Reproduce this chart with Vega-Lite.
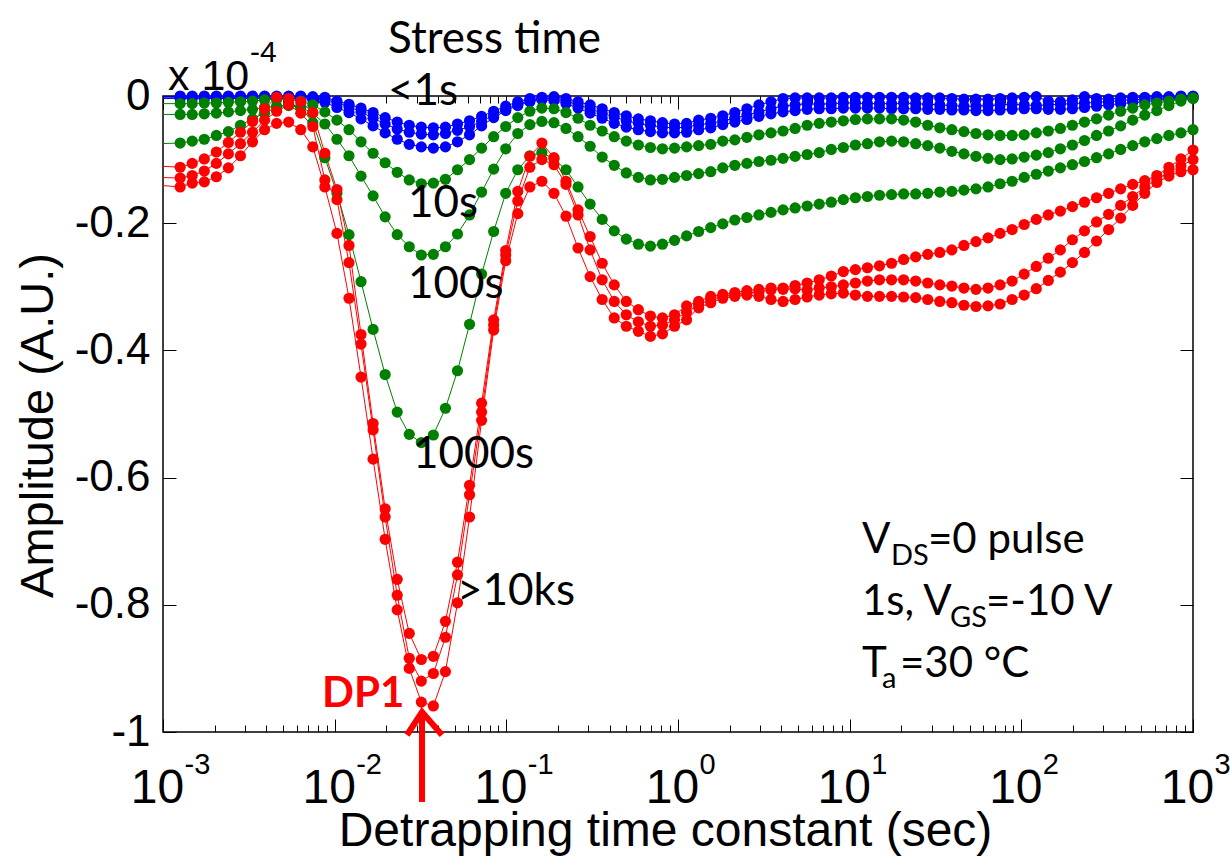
{
  "$schema": "https://vega.github.io/schema/vega-lite/v6.json",
  "width": 1030,
  "height": 636,
  "autosize": {"type": "none"},
  "padding": {"left": 163, "top": 96, "right": 37, "bottom": 130},
  "background": "white",
  "config": {
    "view": {"stroke": "black", "strokeWidth": 1.5},
    "axis": {
      "domain": false, "grid": false, "tickColor": "black", "tickWidth": 1,
      "labelColor": "black", "titleColor": "black",
      "labelFont": "Liberation Sans, Arial, sans-serif",
      "titleFont": "Liberation Sans, Arial, sans-serif",
      "titleFontWeight": "normal", "labelOverlap": false, "labelFlush": false, "labelBound": false
    }
  },
  "datasets": {
    "curves": [
      {"t":0.00091,"c":"B1","a":0},{"t":0.001259,"c":"B1","a":0},{"t":0.00148,"c":"B1","a":0},{"t":0.00174,"c":"B1","a":0},{"t":0.002045,"c":"B1","a":0},{"t":0.002404,"c":"B1","a":0},{"t":0.002826,"c":"B1","a":0},{"t":0.003322,"c":"B1","a":0},{"t":0.003905,"c":"B1","a":0},{"t":0.004591,"c":"B1","a":0},{"t":0.005397,"c":"B1","a":0},{"t":0.006345,"c":"B1","a":0},{"t":0.007458,"c":"B1","a":-0.001},{"t":0.008768,"c":"B1","a":-0.002},{"t":0.01031,"c":"B1","a":-0.008},{"t":0.01212,"c":"B1","a":-0.013},{"t":0.01424,"c":"B1","a":-0.019},{"t":0.01674,"c":"B1","a":-0.026},{"t":0.01968,"c":"B1","a":-0.034},{"t":0.02314,"c":"B1","a":-0.041},{"t":0.0272,"c":"B1","a":-0.046},{"t":0.03197,"c":"B1","a":-0.049},{"t":0.03758,"c":"B1","a":-0.05},{"t":0.04418,"c":"B1","a":-0.049},{"t":0.05194,"c":"B1","a":-0.044},{"t":0.06105,"c":"B1","a":-0.039},{"t":0.07177,"c":"B1","a":-0.032},{"t":0.08437,"c":"B1","a":-0.024},{"t":0.09918,"c":"B1","a":-0.016},{"t":0.1166,"c":"B1","a":-0.009},{"t":0.1371,"c":"B1","a":-0.004},{"t":0.1611,"c":"B1","a":-0.002},{"t":0.1894,"c":"B1","a":-0.001},{"t":0.2227,"c":"B1","a":-0.004},{"t":0.2617,"c":"B1","a":-0.009},{"t":0.3077,"c":"B1","a":-0.014},{"t":0.3617,"c":"B1","a":-0.02},{"t":0.4252,"c":"B1","a":-0.026},{"t":0.4998,"c":"B1","a":-0.031},{"t":0.5876,"c":"B1","a":-0.036},{"t":0.6907,"c":"B1","a":-0.039},{"t":0.812,"c":"B1","a":-0.042},{"t":0.9545,"c":"B1","a":-0.044},{"t":1.122,"c":"B1","a":-0.043},{"t":1.319,"c":"B1","a":-0.038},{"t":1.551,"c":"B1","a":-0.035},{"t":1.823,"c":"B1","a":-0.031},{"t":2.143,"c":"B1","a":-0.026},{"t":2.519,"c":"B1","a":-0.02},{"t":2.961,"c":"B1","a":-0.014},{"t":3.481,"c":"B1","a":-0.009},{"t":4.092,"c":"B1","a":-0.004},{"t":4.81,"c":"B1","a":-0.003},{"t":5.654,"c":"B1","a":-0.003},{"t":6.647,"c":"B1","a":-0.003},{"t":7.814,"c":"B1","a":-0.003},{"t":9.185,"c":"B1","a":-0.002},{"t":10.8,"c":"B1","a":-0.002},{"t":12.69,"c":"B1","a":-0.002},{"t":14.92,"c":"B1","a":-0.002},{"t":17.54,"c":"B1","a":-0.002},{"t":20.62,"c":"B1","a":-0.002},{"t":24.24,"c":"B1","a":-0.003},{"t":28.49,"c":"B1","a":-0.003},{"t":33.5,"c":"B1","a":-0.003},{"t":39.38,"c":"B1","a":-0.004},{"t":46.29,"c":"B1","a":-0.005},{"t":54.41,"c":"B1","a":-0.005},{"t":63.97,"c":"B1","a":-0.005},{"t":75.19,"c":"B1","a":-0.004},{"t":88.39,"c":"B1","a":-0.003},{"t":103.9,"c":"B1","a":-0.002},{"t":122.2,"c":"B1","a":-0.001},{"t":143.6,"c":"B1","a":-0.008},{"t":168.8,"c":"B1","a":-0.009},{"t":198.4,"c":"B1","a":-0.006},{"t":233.3,"c":"B1","a":-0.001},{"t":274.2,"c":"B1","a":-0.004},{"t":322.4,"c":"B1","a":-0.005},{"t":378.9,"c":"B1","a":-0.003},{"t":445.5,"c":"B1","a":-0.002},{"t":523.6,"c":"B1","a":-0.002},{"t":615.6,"c":"B1","a":-0.001},{"t":723.6,"c":"B1","a":-0.001},{"t":850.6,"c":"B1","a":0},{"t":1000,"c":"B1","a":0},

      {"t":0.00091,"c":"B2","a":-0.002},{"t":0.001259,"c":"B2","a":-0.002},{"t":0.00148,"c":"B2","a":-0.002},{"t":0.00174,"c":"B2","a":-0.002},{"t":0.002045,"c":"B2","a":-0.002},{"t":0.002404,"c":"B2","a":-0.002},{"t":0.002826,"c":"B2","a":-0.002},{"t":0.003322,"c":"B2","a":-0.002},{"t":0.003905,"c":"B2","a":-0.002},{"t":0.004591,"c":"B2","a":-0.002},{"t":0.005397,"c":"B2","a":-0.002},{"t":0.006345,"c":"B2","a":-0.002},{"t":0.007458,"c":"B2","a":-0.003},{"t":0.008768,"c":"B2","a":-0.005},{"t":0.01031,"c":"B2","a":-0.011},{"t":0.01212,"c":"B2","a":-0.017},{"t":0.01424,"c":"B2","a":-0.025},{"t":0.01674,"c":"B2","a":-0.035},{"t":0.01968,"c":"B2","a":-0.044},{"t":0.02314,"c":"B2","a":-0.052},{"t":0.0272,"c":"B2","a":-0.057},{"t":0.03197,"c":"B2","a":-0.06},{"t":0.03758,"c":"B2","a":-0.061},{"t":0.04418,"c":"B2","a":-0.059},{"t":0.05194,"c":"B2","a":-0.054},{"t":0.06105,"c":"B2","a":-0.048},{"t":0.07177,"c":"B2","a":-0.04},{"t":0.08437,"c":"B2","a":-0.03},{"t":0.09918,"c":"B2","a":-0.021},{"t":0.1166,"c":"B2","a":-0.013},{"t":0.1371,"c":"B2","a":-0.007},{"t":0.1611,"c":"B2","a":-0.004},{"t":0.1894,"c":"B2","a":-0.004},{"t":0.2227,"c":"B2","a":-0.008},{"t":0.2617,"c":"B2","a":-0.014},{"t":0.3077,"c":"B2","a":-0.02},{"t":0.3617,"c":"B2","a":-0.027},{"t":0.4252,"c":"B2","a":-0.033},{"t":0.4998,"c":"B2","a":-0.039},{"t":0.5876,"c":"B2","a":-0.043},{"t":0.6907,"c":"B2","a":-0.046},{"t":0.812,"c":"B2","a":-0.049},{"t":0.9545,"c":"B2","a":-0.05},{"t":1.122,"c":"B2","a":-0.049},{"t":1.319,"c":"B2","a":-0.045},{"t":1.551,"c":"B2","a":-0.043},{"t":1.823,"c":"B2","a":-0.039},{"t":2.143,"c":"B2","a":-0.035},{"t":2.519,"c":"B2","a":-0.03},{"t":2.961,"c":"B2","a":-0.025},{"t":3.481,"c":"B2","a":-0.02},{"t":4.092,"c":"B2","a":-0.016},{"t":4.81,"c":"B2","a":-0.014},{"t":5.654,"c":"B2","a":-0.012},{"t":6.647,"c":"B2","a":-0.013},{"t":7.814,"c":"B2","a":-0.012},{"t":9.185,"c":"B2","a":-0.011},{"t":10.8,"c":"B2","a":-0.011},{"t":12.69,"c":"B2","a":-0.012},{"t":14.92,"c":"B2","a":-0.012},{"t":17.54,"c":"B2","a":-0.012},{"t":20.62,"c":"B2","a":-0.011},{"t":24.24,"c":"B2","a":-0.012},{"t":28.49,"c":"B2","a":-0.013},{"t":33.5,"c":"B2","a":-0.014},{"t":39.38,"c":"B2","a":-0.015},{"t":46.29,"c":"B2","a":-0.016},{"t":54.41,"c":"B2","a":-0.016},{"t":63.97,"c":"B2","a":-0.015},{"t":75.19,"c":"B2","a":-0.014},{"t":88.39,"c":"B2","a":-0.013},{"t":103.9,"c":"B2","a":-0.014},{"t":122.2,"c":"B2","a":-0.015},{"t":143.6,"c":"B2","a":-0.014},{"t":168.8,"c":"B2","a":-0.013},{"t":198.4,"c":"B2","a":-0.012},{"t":233.3,"c":"B2","a":-0.011},{"t":274.2,"c":"B2","a":-0.01},{"t":322.4,"c":"B2","a":-0.009},{"t":378.9,"c":"B2","a":-0.007},{"t":445.5,"c":"B2","a":-0.006},{"t":523.6,"c":"B2","a":-0.005},{"t":615.6,"c":"B2","a":-0.004},{"t":723.6,"c":"B2","a":-0.003},{"t":850.6,"c":"B2","a":-0.002},{"t":1000,"c":"B2","a":-0.001},

      {"t":0.00091,"c":"B3","a":-0.004},{"t":0.001259,"c":"B3","a":-0.004},{"t":0.00148,"c":"B3","a":-0.004},{"t":0.00174,"c":"B3","a":-0.004},{"t":0.002045,"c":"B3","a":-0.004},{"t":0.002404,"c":"B3","a":-0.004},{"t":0.002826,"c":"B3","a":-0.004},{"t":0.003322,"c":"B3","a":-0.004},{"t":0.003905,"c":"B3","a":-0.004},{"t":0.004591,"c":"B3","a":-0.004},{"t":0.005397,"c":"B3","a":-0.004},{"t":0.006345,"c":"B3","a":-0.004},{"t":0.007458,"c":"B3","a":-0.006},{"t":0.008768,"c":"B3","a":-0.01},{"t":0.01031,"c":"B3","a":-0.018},{"t":0.01212,"c":"B3","a":-0.026},{"t":0.01424,"c":"B3","a":-0.036},{"t":0.01674,"c":"B3","a":-0.047},{"t":0.01968,"c":"B3","a":-0.058},{"t":0.02314,"c":"B3","a":-0.068},{"t":0.0272,"c":"B3","a":-0.076},{"t":0.03197,"c":"B3","a":-0.08},{"t":0.03758,"c":"B3","a":-0.082},{"t":0.04418,"c":"B3","a":-0.08},{"t":0.05194,"c":"B3","a":-0.072},{"t":0.06105,"c":"B3","a":-0.061},{"t":0.07177,"c":"B3","a":-0.047},{"t":0.08437,"c":"B3","a":-0.034},{"t":0.09918,"c":"B3","a":-0.023},{"t":0.1166,"c":"B3","a":-0.015},{"t":0.1371,"c":"B3","a":-0.009},{"t":0.1611,"c":"B3","a":-0.006},{"t":0.1894,"c":"B3","a":-0.007},{"t":0.2227,"c":"B3","a":-0.012},{"t":0.2617,"c":"B3","a":-0.019},{"t":0.3077,"c":"B3","a":-0.027},{"t":0.3617,"c":"B3","a":-0.035},{"t":0.4252,"c":"B3","a":-0.043},{"t":0.4998,"c":"B3","a":-0.049},{"t":0.5876,"c":"B3","a":-0.053},{"t":0.6907,"c":"B3","a":-0.056},{"t":0.812,"c":"B3","a":-0.058},{"t":0.9545,"c":"B3","a":-0.058},{"t":1.122,"c":"B3","a":-0.057},{"t":1.319,"c":"B3","a":-0.053},{"t":1.551,"c":"B3","a":-0.05},{"t":1.823,"c":"B3","a":-0.045},{"t":2.143,"c":"B3","a":-0.041},{"t":2.519,"c":"B3","a":-0.037},{"t":2.961,"c":"B3","a":-0.032},{"t":3.481,"c":"B3","a":-0.028},{"t":4.092,"c":"B3","a":-0.025},{"t":4.81,"c":"B3","a":-0.023},{"t":5.654,"c":"B3","a":-0.021},{"t":6.647,"c":"B3","a":-0.02},{"t":7.814,"c":"B3","a":-0.02},{"t":9.185,"c":"B3","a":-0.019},{"t":10.8,"c":"B3","a":-0.019},{"t":12.69,"c":"B3","a":-0.019},{"t":14.92,"c":"B3","a":-0.019},{"t":17.54,"c":"B3","a":-0.02},{"t":20.62,"c":"B3","a":-0.02},{"t":24.24,"c":"B3","a":-0.02},{"t":28.49,"c":"B3","a":-0.021},{"t":33.5,"c":"B3","a":-0.021},{"t":39.38,"c":"B3","a":-0.022},{"t":46.29,"c":"B3","a":-0.022},{"t":54.41,"c":"B3","a":-0.023},{"t":63.97,"c":"B3","a":-0.023},{"t":75.19,"c":"B3","a":-0.022},{"t":88.39,"c":"B3","a":-0.021},{"t":103.9,"c":"B3","a":-0.02},{"t":122.2,"c":"B3","a":-0.02},{"t":143.6,"c":"B3","a":-0.021},{"t":168.8,"c":"B3","a":-0.021},{"t":198.4,"c":"B3","a":-0.02},{"t":233.3,"c":"B3","a":-0.018},{"t":274.2,"c":"B3","a":-0.016},{"t":322.4,"c":"B3","a":-0.014},{"t":378.9,"c":"B3","a":-0.012},{"t":445.5,"c":"B3","a":-0.01},{"t":523.6,"c":"B3","a":-0.009},{"t":615.6,"c":"B3","a":-0.007},{"t":723.6,"c":"B3","a":-0.005},{"t":850.6,"c":"B3","a":-0.004},{"t":1000,"c":"B3","a":-0.003},

      {"t":0.00091,"c":"G1","a":-0.012},{"t":0.001259,"c":"G1","a":-0.012},{"t":0.00148,"c":"G1","a":-0.012},{"t":0.00174,"c":"G1","a":-0.011},{"t":0.002045,"c":"G1","a":-0.011},{"t":0.002404,"c":"G1","a":-0.01},{"t":0.002826,"c":"G1","a":-0.009},{"t":0.003322,"c":"G1","a":-0.008},{"t":0.003905,"c":"G1","a":-0.006},{"t":0.004591,"c":"G1","a":-0.005},{"t":0.005397,"c":"G1","a":-0.005},{"t":0.006345,"c":"G1","a":-0.008},{"t":0.007458,"c":"G1","a":-0.014},{"t":0.008768,"c":"G1","a":-0.025},{"t":0.01031,"c":"G1","a":-0.038},{"t":0.01212,"c":"G1","a":-0.053},{"t":0.01424,"c":"G1","a":-0.072},{"t":0.01674,"c":"G1","a":-0.09},{"t":0.01968,"c":"G1","a":-0.105},{"t":0.02314,"c":"G1","a":-0.12},{"t":0.0272,"c":"G1","a":-0.132},{"t":0.03197,"c":"G1","a":-0.138},{"t":0.03758,"c":"G1","a":-0.137},{"t":0.04418,"c":"G1","a":-0.131},{"t":0.05194,"c":"G1","a":-0.116},{"t":0.06105,"c":"G1","a":-0.1},{"t":0.07177,"c":"G1","a":-0.082},{"t":0.08437,"c":"G1","a":-0.064},{"t":0.09918,"c":"G1","a":-0.048},{"t":0.1166,"c":"G1","a":-0.034},{"t":0.1371,"c":"G1","a":-0.024},{"t":0.1611,"c":"G1","a":-0.019},{"t":0.1894,"c":"G1","a":-0.02},{"t":0.2227,"c":"G1","a":-0.026},{"t":0.2617,"c":"G1","a":-0.035},{"t":0.3077,"c":"G1","a":-0.046},{"t":0.3617,"c":"G1","a":-0.055},{"t":0.4252,"c":"G1","a":-0.064},{"t":0.4998,"c":"G1","a":-0.071},{"t":0.5876,"c":"G1","a":-0.077},{"t":0.6907,"c":"G1","a":-0.081},{"t":0.812,"c":"G1","a":-0.083},{"t":0.9545,"c":"G1","a":-0.082},{"t":1.122,"c":"G1","a":-0.08},{"t":1.319,"c":"G1","a":-0.078},{"t":1.551,"c":"G1","a":-0.076},{"t":1.823,"c":"G1","a":-0.071},{"t":2.143,"c":"G1","a":-0.069},{"t":2.519,"c":"G1","a":-0.065},{"t":2.961,"c":"G1","a":-0.061},{"t":3.481,"c":"G1","a":-0.058},{"t":4.092,"c":"G1","a":-0.055},{"t":4.81,"c":"G1","a":-0.051},{"t":5.654,"c":"G1","a":-0.046},{"t":6.647,"c":"G1","a":-0.043},{"t":7.814,"c":"G1","a":-0.041},{"t":9.185,"c":"G1","a":-0.039},{"t":10.8,"c":"G1","a":-0.037},{"t":12.69,"c":"G1","a":-0.036},{"t":14.92,"c":"G1","a":-0.036},{"t":17.54,"c":"G1","a":-0.036},{"t":20.62,"c":"G1","a":-0.038},{"t":24.24,"c":"G1","a":-0.041},{"t":28.49,"c":"G1","a":-0.046},{"t":33.5,"c":"G1","a":-0.05},{"t":39.38,"c":"G1","a":-0.053},{"t":46.29,"c":"G1","a":-0.056},{"t":54.41,"c":"G1","a":-0.059},{"t":63.97,"c":"G1","a":-0.061},{"t":75.19,"c":"G1","a":-0.062},{"t":88.39,"c":"G1","a":-0.062},{"t":103.9,"c":"G1","a":-0.061},{"t":122.2,"c":"G1","a":-0.058},{"t":143.6,"c":"G1","a":-0.055},{"t":168.8,"c":"G1","a":-0.051},{"t":198.4,"c":"G1","a":-0.046},{"t":233.3,"c":"G1","a":-0.041},{"t":274.2,"c":"G1","a":-0.036},{"t":322.4,"c":"G1","a":-0.03},{"t":378.9,"c":"G1","a":-0.024},{"t":445.5,"c":"G1","a":-0.019},{"t":523.6,"c":"G1","a":-0.014},{"t":615.6,"c":"G1","a":-0.011},{"t":723.6,"c":"G1","a":-0.008},{"t":850.6,"c":"G1","a":-0.005},{"t":1000,"c":"G1","a":-0.003},

      {"t":0.00091,"c":"G2","a":-0.029},{"t":0.001259,"c":"G2","a":-0.029},{"t":0.00148,"c":"G2","a":-0.029},{"t":0.00174,"c":"G2","a":-0.028},{"t":0.002045,"c":"G2","a":-0.027},{"t":0.002404,"c":"G2","a":-0.025},{"t":0.002826,"c":"G2","a":-0.023},{"t":0.003322,"c":"G2","a":-0.021},{"t":0.003905,"c":"G2","a":-0.018},{"t":0.004591,"c":"G2","a":-0.016},{"t":0.005397,"c":"G2","a":-0.015},{"t":0.006345,"c":"G2","a":-0.018},{"t":0.007458,"c":"G2","a":-0.027},{"t":0.008768,"c":"G2","a":-0.044},{"t":0.01031,"c":"G2","a":-0.068},{"t":0.01212,"c":"G2","a":-0.094},{"t":0.01424,"c":"G2","a":-0.126},{"t":0.01674,"c":"G2","a":-0.157},{"t":0.01968,"c":"G2","a":-0.19},{"t":0.02314,"c":"G2","a":-0.218},{"t":0.0272,"c":"G2","a":-0.237},{"t":0.03197,"c":"G2","a":-0.25},{"t":0.03758,"c":"G2","a":-0.249},{"t":0.04418,"c":"G2","a":-0.237},{"t":0.05194,"c":"G2","a":-0.217},{"t":0.06105,"c":"G2","a":-0.187},{"t":0.07177,"c":"G2","a":-0.151},{"t":0.08437,"c":"G2","a":-0.115},{"t":0.09918,"c":"G2","a":-0.083},{"t":0.1166,"c":"G2","a":-0.059},{"t":0.1371,"c":"G2","a":-0.045},{"t":0.1611,"c":"G2","a":-0.04},{"t":0.1894,"c":"G2","a":-0.042},{"t":0.2227,"c":"G2","a":-0.051},{"t":0.2617,"c":"G2","a":-0.064},{"t":0.3077,"c":"G2","a":-0.079},{"t":0.3617,"c":"G2","a":-0.096},{"t":0.4252,"c":"G2","a":-0.109},{"t":0.4998,"c":"G2","a":-0.121},{"t":0.5876,"c":"G2","a":-0.128},{"t":0.6907,"c":"G2","a":-0.132},{"t":0.812,"c":"G2","a":-0.131},{"t":0.9545,"c":"G2","a":-0.128},{"t":1.122,"c":"G2","a":-0.125},{"t":1.319,"c":"G2","a":-0.122},{"t":1.551,"c":"G2","a":-0.119},{"t":1.823,"c":"G2","a":-0.113},{"t":2.143,"c":"G2","a":-0.109},{"t":2.519,"c":"G2","a":-0.106},{"t":2.961,"c":"G2","a":-0.103},{"t":3.481,"c":"G2","a":-0.101},{"t":4.092,"c":"G2","a":-0.098},{"t":4.81,"c":"G2","a":-0.095},{"t":5.654,"c":"G2","a":-0.092},{"t":6.647,"c":"G2","a":-0.089},{"t":7.814,"c":"G2","a":-0.084},{"t":9.185,"c":"G2","a":-0.081},{"t":10.8,"c":"G2","a":-0.077},{"t":12.69,"c":"G2","a":-0.075},{"t":14.92,"c":"G2","a":-0.072},{"t":17.54,"c":"G2","a":-0.071},{"t":20.62,"c":"G2","a":-0.072},{"t":24.24,"c":"G2","a":-0.075},{"t":28.49,"c":"G2","a":-0.078},{"t":33.5,"c":"G2","a":-0.082},{"t":39.38,"c":"G2","a":-0.087},{"t":46.29,"c":"G2","a":-0.091},{"t":54.41,"c":"G2","a":-0.095},{"t":63.97,"c":"G2","a":-0.098},{"t":75.19,"c":"G2","a":-0.1},{"t":88.39,"c":"G2","a":-0.099},{"t":103.9,"c":"G2","a":-0.096},{"t":122.2,"c":"G2","a":-0.093},{"t":143.6,"c":"G2","a":-0.089},{"t":168.8,"c":"G2","a":-0.083},{"t":198.4,"c":"G2","a":-0.077},{"t":233.3,"c":"G2","a":-0.07},{"t":274.2,"c":"G2","a":-0.062},{"t":322.4,"c":"G2","a":-0.055},{"t":378.9,"c":"G2","a":-0.047},{"t":445.5,"c":"G2","a":-0.038},{"t":523.6,"c":"G2","a":-0.03},{"t":615.6,"c":"G2","a":-0.023},{"t":723.6,"c":"G2","a":-0.015},{"t":850.6,"c":"G2","a":-0.008},{"t":1000,"c":"G2","a":-0.004},

      {"t":0.00091,"c":"G3","a":-0.075},{"t":0.001259,"c":"G3","a":-0.074},{"t":0.00148,"c":"G3","a":-0.071},{"t":0.00174,"c":"G3","a":-0.068},{"t":0.002045,"c":"G3","a":-0.062},{"t":0.002404,"c":"G3","a":-0.056},{"t":0.002826,"c":"G3","a":-0.046},{"t":0.003322,"c":"G3","a":-0.036},{"t":0.003905,"c":"G3","a":-0.027},{"t":0.004591,"c":"G3","a":-0.018},{"t":0.005397,"c":"G3","a":-0.013},{"t":0.006345,"c":"G3","a":-0.017},{"t":0.007458,"c":"G3","a":-0.042},{"t":0.008768,"c":"G3","a":-0.097},{"t":0.01031,"c":"G3","a":-0.153},{"t":0.01212,"c":"G3","a":-0.218},{"t":0.01424,"c":"G3","a":-0.292},{"t":0.01674,"c":"G3","a":-0.367},{"t":0.01968,"c":"G3","a":-0.438},{"t":0.02314,"c":"G3","a":-0.497},{"t":0.0272,"c":"G3","a":-0.532},{"t":0.03197,"c":"G3","a":-0.545},{"t":0.03758,"c":"G3","a":-0.533},{"t":0.04418,"c":"G3","a":-0.491},{"t":0.05194,"c":"G3","a":-0.432},{"t":0.06105,"c":"G3","a":-0.359},{"t":0.07177,"c":"G3","a":-0.28},{"t":0.08437,"c":"G3","a":-0.213},{"t":0.09918,"c":"G3","a":-0.153},{"t":0.1166,"c":"G3","a":-0.116},{"t":0.1371,"c":"G3","a":-0.094},{"t":0.1611,"c":"G3","a":-0.089},{"t":0.1894,"c":"G3","a":-0.099},{"t":0.2227,"c":"G3","a":-0.116},{"t":0.2617,"c":"G3","a":-0.143},{"t":0.3077,"c":"G3","a":-0.17},{"t":0.3617,"c":"G3","a":-0.194},{"t":0.4252,"c":"G3","a":-0.212},{"t":0.4998,"c":"G3","a":-0.225},{"t":0.5876,"c":"G3","a":-0.233},{"t":0.6907,"c":"G3","a":-0.236},{"t":0.812,"c":"G3","a":-0.233},{"t":0.9545,"c":"G3","a":-0.227},{"t":1.122,"c":"G3","a":-0.22},{"t":1.319,"c":"G3","a":-0.213},{"t":1.551,"c":"G3","a":-0.207},{"t":1.823,"c":"G3","a":-0.201},{"t":2.143,"c":"G3","a":-0.195},{"t":2.519,"c":"G3","a":-0.191},{"t":2.961,"c":"G3","a":-0.187},{"t":3.481,"c":"G3","a":-0.183},{"t":4.092,"c":"G3","a":-0.179},{"t":4.81,"c":"G3","a":-0.176},{"t":5.654,"c":"G3","a":-0.173},{"t":6.647,"c":"G3","a":-0.17},{"t":7.814,"c":"G3","a":-0.167},{"t":9.185,"c":"G3","a":-0.163},{"t":10.8,"c":"G3","a":-0.16},{"t":12.69,"c":"G3","a":-0.158},{"t":14.92,"c":"G3","a":-0.156},{"t":17.54,"c":"G3","a":-0.155},{"t":20.62,"c":"G3","a":-0.154},{"t":24.24,"c":"G3","a":-0.154},{"t":28.49,"c":"G3","a":-0.153},{"t":33.5,"c":"G3","a":-0.151},{"t":39.38,"c":"G3","a":-0.15},{"t":46.29,"c":"G3","a":-0.148},{"t":54.41,"c":"G3","a":-0.146},{"t":63.97,"c":"G3","a":-0.143},{"t":75.19,"c":"G3","a":-0.138},{"t":88.39,"c":"G3","a":-0.134},{"t":103.9,"c":"G3","a":-0.128},{"t":122.2,"c":"G3","a":-0.123},{"t":143.6,"c":"G3","a":-0.118},{"t":168.8,"c":"G3","a":-0.113},{"t":198.4,"c":"G3","a":-0.108},{"t":233.3,"c":"G3","a":-0.103},{"t":274.2,"c":"G3","a":-0.097},{"t":322.4,"c":"G3","a":-0.091},{"t":378.9,"c":"G3","a":-0.084},{"t":445.5,"c":"G3","a":-0.078},{"t":523.6,"c":"G3","a":-0.072},{"t":615.6,"c":"G3","a":-0.067},{"t":723.6,"c":"G3","a":-0.062},{"t":850.6,"c":"G3","a":-0.058},{"t":1000,"c":"G3","a":-0.053},

      {"t":0.00091,"c":"R1","a":-0.11},{"t":0.001259,"c":"R1","a":-0.112},{"t":0.00148,"c":"R1","a":-0.106},{"t":0.00174,"c":"R1","a":-0.099},{"t":0.002045,"c":"R1","a":-0.088},{"t":0.002404,"c":"R1","a":-0.073},{"t":0.002826,"c":"R1","a":-0.057},{"t":0.003322,"c":"R1","a":-0.04},{"t":0.003905,"c":"R1","a":-0.02},{"t":0.004591,"c":"R1","a":-0.002},{"t":0.005397,"c":"R1","a":-0.004},{"t":0.006345,"c":"R1","a":-0.009},{"t":0.007458,"c":"R1","a":-0.026},{"t":0.008768,"c":"R1","a":-0.09},{"t":0.01031,"c":"R1","a":-0.147},{"t":0.01212,"c":"R1","a":-0.235},{"t":0.01424,"c":"R1","a":-0.375},{"t":0.01674,"c":"R1","a":-0.515},{"t":0.01968,"c":"R1","a":-0.649},{"t":0.02314,"c":"R1","a":-0.76},{"t":0.0272,"c":"R1","a":-0.845},{"t":0.03197,"c":"R1","a":-0.886},{"t":0.03758,"c":"R1","a":-0.881},{"t":0.04418,"c":"R1","a":-0.826},{"t":0.05194,"c":"R1","a":-0.733},{"t":0.06105,"c":"R1","a":-0.612},{"t":0.07177,"c":"R1","a":-0.483},{"t":0.08437,"c":"R1","a":-0.352},{"t":0.09918,"c":"R1","a":-0.243},{"t":0.1166,"c":"R1","a":-0.15},{"t":0.1371,"c":"R1","a":-0.095},{"t":0.1611,"c":"R1","a":-0.074},{"t":0.1894,"c":"R1","a":-0.097},{"t":0.2227,"c":"R1","a":-0.134},{"t":0.2617,"c":"R1","a":-0.179},{"t":0.3077,"c":"R1","a":-0.221},{"t":0.3617,"c":"R1","a":-0.263},{"t":0.4252,"c":"R1","a":-0.297},{"t":0.4998,"c":"R1","a":-0.323},{"t":0.5876,"c":"R1","a":-0.336},{"t":0.6907,"c":"R1","a":-0.346},{"t":0.812,"c":"R1","a":-0.349},{"t":0.9545,"c":"R1","a":-0.344},{"t":1.122,"c":"R1","a":-0.33},{"t":1.319,"c":"R1","a":-0.323},{"t":1.551,"c":"R1","a":-0.315},{"t":1.823,"c":"R1","a":-0.312},{"t":2.143,"c":"R1","a":-0.309},{"t":2.519,"c":"R1","a":-0.306},{"t":2.961,"c":"R1","a":-0.304},{"t":3.481,"c":"R1","a":-0.302},{"t":4.092,"c":"R1","a":-0.302},{"t":4.81,"c":"R1","a":-0.298},{"t":5.654,"c":"R1","a":-0.294},{"t":6.647,"c":"R1","a":-0.289},{"t":7.814,"c":"R1","a":-0.283},{"t":9.185,"c":"R1","a":-0.276},{"t":10.8,"c":"R1","a":-0.273},{"t":12.69,"c":"R1","a":-0.27},{"t":14.92,"c":"R1","a":-0.267},{"t":17.54,"c":"R1","a":-0.263},{"t":20.62,"c":"R1","a":-0.257},{"t":24.24,"c":"R1","a":-0.253},{"t":28.49,"c":"R1","a":-0.249},{"t":33.5,"c":"R1","a":-0.246},{"t":39.38,"c":"R1","a":-0.242},{"t":46.29,"c":"R1","a":-0.235},{"t":54.41,"c":"R1","a":-0.229},{"t":63.97,"c":"R1","a":-0.223},{"t":75.19,"c":"R1","a":-0.216},{"t":88.39,"c":"R1","a":-0.21},{"t":103.9,"c":"R1","a":-0.202},{"t":122.2,"c":"R1","a":-0.194},{"t":143.6,"c":"R1","a":-0.187},{"t":168.8,"c":"R1","a":-0.181},{"t":198.4,"c":"R1","a":-0.174},{"t":233.3,"c":"R1","a":-0.167},{"t":274.2,"c":"R1","a":-0.16},{"t":322.4,"c":"R1","a":-0.153},{"t":378.9,"c":"R1","a":-0.146},{"t":445.5,"c":"R1","a":-0.139},{"t":523.6,"c":"R1","a":-0.133},{"t":615.6,"c":"R1","a":-0.125},{"t":723.6,"c":"R1","a":-0.112},{"t":850.6,"c":"R1","a":-0.099},{"t":1000,"c":"R1","a":-0.085},

      {"t":0.00091,"c":"R2","a":-0.128},{"t":0.001259,"c":"R2","a":-0.129},{"t":0.00148,"c":"R2","a":-0.125},{"t":0.00174,"c":"R2","a":-0.118},{"t":0.002045,"c":"R2","a":-0.106},{"t":0.002404,"c":"R2","a":-0.091},{"t":0.002826,"c":"R2","a":-0.075},{"t":0.003322,"c":"R2","a":-0.057},{"t":0.003905,"c":"R2","a":-0.038},{"t":0.004591,"c":"R2","a":-0.024},{"t":0.005397,"c":"R2","a":-0.014},{"t":0.006345,"c":"R2","a":-0.027},{"t":0.007458,"c":"R2","a":-0.048},{"t":0.008768,"c":"R2","a":-0.132},{"t":0.01031,"c":"R2","a":-0.163},{"t":0.01212,"c":"R2","a":-0.262},{"t":0.01424,"c":"R2","a":-0.39},{"t":0.01674,"c":"R2","a":-0.525},{"t":0.01968,"c":"R2","a":-0.662},{"t":0.02314,"c":"R2","a":-0.785},{"t":0.0272,"c":"R2","a":-0.884},{"t":0.03197,"c":"R2","a":-0.92},{"t":0.03758,"c":"R2","a":-0.908},{"t":0.04418,"c":"R2","a":-0.851},{"t":0.05194,"c":"R2","a":-0.753},{"t":0.06105,"c":"R2","a":-0.627},{"t":0.07177,"c":"R2","a":-0.497},{"t":0.08437,"c":"R2","a":-0.36},{"t":0.09918,"c":"R2","a":-0.25},{"t":0.1166,"c":"R2","a":-0.165},{"t":0.1371,"c":"R2","a":-0.112},{"t":0.1611,"c":"R2","a":-0.1},{"t":0.1894,"c":"R2","a":-0.108},{"t":0.2227,"c":"R2","a":-0.139},{"t":0.2617,"c":"R2","a":-0.187},{"t":0.3077,"c":"R2","a":-0.242},{"t":0.3617,"c":"R2","a":-0.289},{"t":0.4252,"c":"R2","a":-0.323},{"t":0.4998,"c":"R2","a":-0.344},{"t":0.5876,"c":"R2","a":-0.355},{"t":0.6907,"c":"R2","a":-0.362},{"t":0.812,"c":"R2","a":-0.36},{"t":0.9545,"c":"R2","a":-0.352},{"t":1.122,"c":"R2","a":-0.34},{"t":1.319,"c":"R2","a":-0.328},{"t":1.551,"c":"R2","a":-0.32},{"t":1.823,"c":"R2","a":-0.315},{"t":2.143,"c":"R2","a":-0.312},{"t":2.519,"c":"R2","a":-0.31},{"t":2.961,"c":"R2","a":-0.308},{"t":3.481,"c":"R2","a":-0.305},{"t":4.092,"c":"R2","a":-0.304},{"t":4.81,"c":"R2","a":-0.303},{"t":5.654,"c":"R2","a":-0.305},{"t":6.647,"c":"R2","a":-0.302},{"t":7.814,"c":"R2","a":-0.3},{"t":9.185,"c":"R2","a":-0.297},{"t":10.8,"c":"R2","a":-0.294},{"t":12.69,"c":"R2","a":-0.291},{"t":14.92,"c":"R2","a":-0.289},{"t":17.54,"c":"R2","a":-0.289},{"t":20.62,"c":"R2","a":-0.289},{"t":24.24,"c":"R2","a":-0.291},{"t":28.49,"c":"R2","a":-0.294},{"t":33.5,"c":"R2","a":-0.297},{"t":39.38,"c":"R2","a":-0.299},{"t":46.29,"c":"R2","a":-0.302},{"t":54.41,"c":"R2","a":-0.304},{"t":63.97,"c":"R2","a":-0.302},{"t":75.19,"c":"R2","a":-0.297},{"t":88.39,"c":"R2","a":-0.291},{"t":103.9,"c":"R2","a":-0.28},{"t":122.2,"c":"R2","a":-0.268},{"t":143.6,"c":"R2","a":-0.255},{"t":168.8,"c":"R2","a":-0.242},{"t":198.4,"c":"R2","a":-0.226},{"t":233.3,"c":"R2","a":-0.212},{"t":274.2,"c":"R2","a":-0.198},{"t":322.4,"c":"R2","a":-0.186},{"t":378.9,"c":"R2","a":-0.172},{"t":445.5,"c":"R2","a":-0.158},{"t":523.6,"c":"R2","a":-0.143},{"t":615.6,"c":"R2","a":-0.131},{"t":723.6,"c":"R2","a":-0.12},{"t":850.6,"c":"R2","a":-0.11},{"t":1000,"c":"R2","a":-0.1},

      {"t":0.00091,"c":"R3","a":-0.14},{"t":0.001259,"c":"R3","a":-0.143},{"t":0.00148,"c":"R3","a":-0.137},{"t":0.00174,"c":"R3","a":-0.135},{"t":0.002045,"c":"R3","a":-0.127},{"t":0.002404,"c":"R3","a":-0.113},{"t":0.002826,"c":"R3","a":-0.094},{"t":0.003322,"c":"R3","a":-0.072},{"t":0.003905,"c":"R3","a":-0.053},{"t":0.004591,"c":"R3","a":-0.043},{"t":0.005397,"c":"R3","a":-0.041},{"t":0.006345,"c":"R3","a":-0.053},{"t":0.007458,"c":"R3","a":-0.08},{"t":0.008768,"c":"R3","a":-0.143},{"t":0.01031,"c":"R3","a":-0.216},{"t":0.01212,"c":"R3","a":-0.318},{"t":0.01424,"c":"R3","a":-0.442},{"t":0.01674,"c":"R3","a":-0.571},{"t":0.01968,"c":"R3","a":-0.697},{"t":0.02314,"c":"R3","a":-0.808},{"t":0.0272,"c":"R3","a":-0.9},{"t":0.03197,"c":"R3","a":-0.953},{"t":0.03758,"c":"R3","a":-0.959},{"t":0.04418,"c":"R3","a":-0.905},{"t":0.05194,"c":"R3","a":-0.797},{"t":0.06105,"c":"R3","a":-0.662},{"t":0.07177,"c":"R3","a":-0.51},{"t":0.08437,"c":"R3","a":-0.368},{"t":0.09918,"c":"R3","a":-0.259},{"t":0.1166,"c":"R3","a":-0.185},{"t":0.1371,"c":"R3","a":-0.143},{"t":0.1611,"c":"R3","a":-0.134},{"t":0.1894,"c":"R3","a":-0.153},{"t":0.2227,"c":"R3","a":-0.189},{"t":0.2617,"c":"R3","a":-0.239},{"t":0.3077,"c":"R3","a":-0.284},{"t":0.3617,"c":"R3","a":-0.32},{"t":0.4252,"c":"R3","a":-0.349},{"t":0.4998,"c":"R3","a":-0.362},{"t":0.5876,"c":"R3","a":-0.37},{"t":0.6907,"c":"R3","a":-0.378},{"t":0.812,"c":"R3","a":-0.374},{"t":0.9545,"c":"R3","a":-0.362},{"t":1.122,"c":"R3","a":-0.352},{"t":1.319,"c":"R3","a":-0.333},{"t":1.551,"c":"R3","a":-0.325},{"t":1.823,"c":"R3","a":-0.318},{"t":2.143,"c":"R3","a":-0.315},{"t":2.519,"c":"R3","a":-0.313},{"t":2.961,"c":"R3","a":-0.315},{"t":3.481,"c":"R3","a":-0.32},{"t":4.092,"c":"R3","a":-0.323},{"t":4.81,"c":"R3","a":-0.32},{"t":5.654,"c":"R3","a":-0.316},{"t":6.647,"c":"R3","a":-0.313},{"t":7.814,"c":"R3","a":-0.311},{"t":9.185,"c":"R3","a":-0.31},{"t":10.8,"c":"R3","a":-0.313},{"t":12.69,"c":"R3","a":-0.315},{"t":14.92,"c":"R3","a":-0.315},{"t":17.54,"c":"R3","a":-0.315},{"t":20.62,"c":"R3","a":-0.316},{"t":24.24,"c":"R3","a":-0.317},{"t":28.49,"c":"R3","a":-0.32},{"t":33.5,"c":"R3","a":-0.323},{"t":39.38,"c":"R3","a":-0.325},{"t":46.29,"c":"R3","a":-0.329},{"t":54.41,"c":"R3","a":-0.331},{"t":63.97,"c":"R3","a":-0.33},{"t":75.19,"c":"R3","a":-0.327},{"t":88.39,"c":"R3","a":-0.32},{"t":103.9,"c":"R3","a":-0.313},{"t":122.2,"c":"R3","a":-0.303},{"t":143.6,"c":"R3","a":-0.29},{"t":168.8,"c":"R3","a":-0.277},{"t":198.4,"c":"R3","a":-0.262},{"t":233.3,"c":"R3","a":-0.246},{"t":274.2,"c":"R3","a":-0.228},{"t":322.4,"c":"R3","a":-0.21},{"t":378.9,"c":"R3","a":-0.192},{"t":445.5,"c":"R3","a":-0.172},{"t":523.6,"c":"R3","a":-0.153},{"t":615.6,"c":"R3","a":-0.136},{"t":723.6,"c":"R3","a":-0.126},{"t":850.6,"c":"R3","a":-0.119},{"t":1000,"c":"R3","a":-0.116}
    ],
    "notes": [
      {"k":"lab","t":0.02045,"a":0.0676,"s":"Stress time"},
      {"k":"lab","t":0.02045,"a":-0.0142,"s":"<1s"},
      {"k":"lab","t":0.02674,"a":-0.19,"s":"10s"},
      {"k":"lab","t":0.02674,"a":-0.3176,"s":"100s"},
      {"k":"lab","t":0.02859,"a":-0.585,"s":"1000s"},
      {"k":"lab","t":0.05161,"a":-0.8003,"s":">10ks"},
      {"k":"box","t":11.8,"a":-0.7186,"s":"V"},
      {"k":"box","t":28.6,"a":-0.7186,"s":"=0 pulse"},
      {"k":"box","t":11.8,"a":-0.816,"s":"1s, V"},
      {"k":"box","t":62.23,"a":-0.816,"s":"=-10 V"},
      {"k":"box","t":11.8,"a":-0.9135,"s":"T"},
      {"k":"box","t":19.64,"a":-0.9135,"s":"=30 °C"},
      {"k":"sub","t":17.41,"a":-0.7374,"s":"DS"},
      {"k":"sub","t":38.41,"a":-0.835,"s":"GS"},
      {"k":"sub","t":15.43,"a":-0.931,"s":"a"},
      {"k":"dp","t":0.008437,"a":-0.9607,"s":"DP1"},
      {"k":"shaft","t":0.03227,"a":-0.97,"a2":-1.11},
      {"k":"head","t":0.02638,"a":-1.0047},
      {"k":"head","t":0.03227,"a":-0.9686},
      {"k":"head","t":0.04219,"a":-1.0047},
      {"k":"mult","t":0.001069,"a":0.0094,"s":"x 10"},
      {"k":"pow","t":0.003212,"a":0.0535,"s":"-4"}
    ]
  },
  "layer": [
    {
      "data": {"name": "curves"},
      "mark": {"type": "line", "clip": true, "strokeWidth": 1},
      "encoding": {
        "x": {
          "field": "t", "type": "quantitative",
          "scale": {"type": "log", "domain": [0.001, 1000], "nice": false},
          "axis": {
            "orient": "bottom",
            "values": [0.001,0.002,0.003,0.004,0.005,0.006,0.007,0.008,0.009,0.01,0.02,0.03,0.04,0.05,0.06,0.07,0.08,0.09,0.1,0.2,0.3,0.4,0.5,0.6,0.7,0.8,0.9,1,2,3,4,5,6,7,8,9,10,20,30,40,50,60,70,80,90,100,200,300,400,500,600,700,800,900,1000],
            "labelExpr": "abs(log(datum.value)/LN10 - round(log(datum.value)/LN10)) < 1e-6 ? '10' : ''",
            "tickSize": {"condition": {"test": "abs(log(datum.value)/LN10 - round(log(datum.value)/LN10)) < 1e-6", "value": -13}, "value": -7},
            "labelFontSize": 48, "labelPadding": 45, "labelOffset": -6, "labelBaseline": "top",
            "title": "Detrapping time constant (sec)", "titleFontSize": 48, "titlePadding": -11, "titleX": 502
          }
        },
        "y": {
          "field": "a", "type": "quantitative",
          "scale": {"domain": [-1, 0], "nice": false, "zero": false},
          "axis": {
            "orient": "left",
            "values": [-1, -0.8, -0.6, -0.4, -0.2, 0],
            "labelExpr": "'' + datum.value",
            "tickSize": -13, "labelFontSize": 44, "labelPadding": 26,
            "title": "Amplitude (A.U.)", "titleFontSize": 47, "titlePadding": 12, "titleY": 329
          }
        },
        "color": {
          "field": "c", "type": "nominal", "legend": null,
          "scale": {"domain": ["B1","B2","B3","G1","G2","G3","R1","R2","R3"], "range": ["#0000ff","#0000ff","#0000ff","#008000","#008000","#008000","#ff0000","#ff0000","#ff0000"]}
        }
      }
    },
    {
      "data": {"name": "curves"},
      "transform": [{"filter": "datum.t >= 0.001"}],
      "mark": {"type": "point", "filled": true, "size": 125, "opacity": 1, "strokeWidth": 0},
      "encoding": {
        "x": {
          "field": "t", "type": "quantitative",
          "scale": {"type": "log", "domain": [0.001, 1000], "nice": false},
          "axis": {
            "orient": "top",
            "values": [0.001,0.002,0.003,0.004,0.005,0.006,0.007,0.008,0.009,0.01,0.02,0.03,0.04,0.05,0.06,0.07,0.08,0.09,0.1,0.2,0.3,0.4,0.5,0.6,0.7,0.8,0.9,1,2,3,4,5,6,7,8,9,10,20,30,40,50,60,70,80,90,100,200,300,400,500,600,700,800,900,1000],
            "labels": false, "title": null,
            "tickSize": {"condition": {"test": "abs(log(datum.value)/LN10 - round(log(datum.value)/LN10)) < 1e-6", "value": -13}, "value": -7}
          }
        },
        "y": {
          "field": "a", "type": "quantitative",
          "scale": {"domain": [-1, 0], "nice": false, "zero": false},
          "axis": {"orient": "right", "values": [-1, -0.8, -0.6, -0.4, -0.2, 0], "labels": false, "title": null, "tickSize": -13}
        },
        "color": {
          "field": "c", "type": "nominal", "legend": null,
          "scale": {"domain": ["B1","B2","B3","G1","G2","G3","R1","R2","R3"], "range": ["#0000ff","#0000ff","#0000ff","#008000","#008000","#008000","#ff0000","#ff0000","#ff0000"]}
        }
      }
    },
    {
      "data": {"name": "notes"},
      "transform": [{"filter": "datum.k == 'lab'"}],
      "mark": {"type": "text", "font": "Lato", "fontSize": 44, "align": "left", "baseline": "alphabetic", "color": "black"},
      "encoding": {
        "x": {
          "field": "t", "type": "quantitative",
          "scale": {"type": "log", "domain": [0.001, 1000], "nice": false},
          "axis": {
            "orient": "bottom",
            "values": [0.001, 0.01, 0.1, 1, 10, 100, 1000],
            "ticks": false, "title": null,
            "labelExpr": "'' + round(log(datum.value)/LN10)",
            "labelFontSize": 29, "labelAlign": "left", "labelOffset": 21, "labelBaseline": "top", "labelPadding": 18
          }
        },
        "y": {"field": "a", "type": "quantitative", "scale": {"domain": [-1, 0], "nice": false, "zero": false}, "axis": null},
        "text": {"field": "s"}
      }
    },
    {
      "data": {"name": "notes"},
      "transform": [{"filter": "datum.k == 'box'"}],
      "mark": {"type": "text", "font": "Lato", "fontSize": 42, "align": "left", "baseline": "alphabetic", "color": "black"},
      "encoding": {
        "x": {"field": "t", "type": "quantitative", "scale": {"type": "log", "domain": [0.001, 1000], "nice": false}, "axis": null},
        "y": {"field": "a", "type": "quantitative", "scale": {"domain": [-1, 0], "nice": false, "zero": false}, "axis": null},
        "text": {"field": "s"}
      }
    },
    {
      "data": {"name": "notes"},
      "transform": [{"filter": "datum.k == 'sub'"}],
      "mark": {"type": "text", "font": "Lato", "fontSize": 29, "align": "left", "baseline": "alphabetic", "color": "black"},
      "encoding": {
        "x": {"field": "t", "type": "quantitative", "scale": {"type": "log", "domain": [0.001, 1000], "nice": false}, "axis": null},
        "y": {"field": "a", "type": "quantitative", "scale": {"domain": [-1, 0], "nice": false, "zero": false}, "axis": null},
        "text": {"field": "s"}
      }
    },
    {
      "data": {"name": "notes"},
      "transform": [{"filter": "datum.k == 'dp'"}],
      "mark": {"type": "text", "font": "Lato", "fontSize": 42, "fontWeight": "bold", "align": "left", "baseline": "alphabetic", "color": "#ff0000"},
      "encoding": {
        "x": {"field": "t", "type": "quantitative", "scale": {"type": "log", "domain": [0.001, 1000], "nice": false}, "axis": null},
        "y": {"field": "a", "type": "quantitative", "scale": {"domain": [-1, 0], "nice": false, "zero": false}, "axis": null},
        "text": {"field": "s"}
      }
    },
    {
      "data": {"name": "notes"},
      "transform": [{"filter": "datum.k == 'shaft'"}],
      "mark": {"type": "rule", "color": "#ff0000", "strokeWidth": 6, "clip": false},
      "encoding": {
        "x": {"field": "t", "type": "quantitative", "scale": {"type": "log", "domain": [0.001, 1000], "nice": false}, "axis": null},
        "y": {"field": "a", "type": "quantitative", "scale": {"domain": [-1, 0], "nice": false, "zero": false}, "axis": null},
        "y2": {"field": "a2"}
      }
    },
    {
      "data": {"name": "notes"},
      "transform": [{"filter": "datum.k == 'head'"}],
      "mark": {"type": "line", "color": "#ff0000", "strokeWidth": 6, "strokeJoin": "miter", "strokeCap": "butt", "clip": false},
      "encoding": {
        "x": {"field": "t", "type": "quantitative", "scale": {"type": "log", "domain": [0.001, 1000], "nice": false}, "axis": null},
        "y": {"field": "a", "type": "quantitative", "scale": {"domain": [-1, 0], "nice": false, "zero": false}, "axis": null}
      }
    },
    {
      "data": {"name": "notes"},
      "transform": [{"filter": "datum.k == 'mult'"}],
      "mark": {"type": "text", "font": "Liberation Sans, Arial, sans-serif", "fontSize": 43, "align": "left", "baseline": "alphabetic", "color": "black"},
      "encoding": {
        "x": {"field": "t", "type": "quantitative", "scale": {"type": "log", "domain": [0.001, 1000], "nice": false}, "axis": null},
        "y": {"field": "a", "type": "quantitative", "scale": {"domain": [-1, 0], "nice": false, "zero": false}, "axis": null},
        "text": {"field": "s"}
      }
    },
    {
      "data": {"name": "notes"},
      "transform": [{"filter": "datum.k == 'pow'"}],
      "mark": {"type": "text", "font": "Liberation Sans, Arial, sans-serif", "fontSize": 30, "align": "left", "baseline": "alphabetic", "color": "black"},
      "encoding": {
        "x": {"field": "t", "type": "quantitative", "scale": {"type": "log", "domain": [0.001, 1000], "nice": false}, "axis": null},
        "y": {"field": "a", "type": "quantitative", "scale": {"domain": [-1, 0], "nice": false, "zero": false}, "axis": null},
        "text": {"field": "s"}
      }
    }
  ],
  "resolve": {"axis": {"x": "independent", "y": "independent"}}
}
